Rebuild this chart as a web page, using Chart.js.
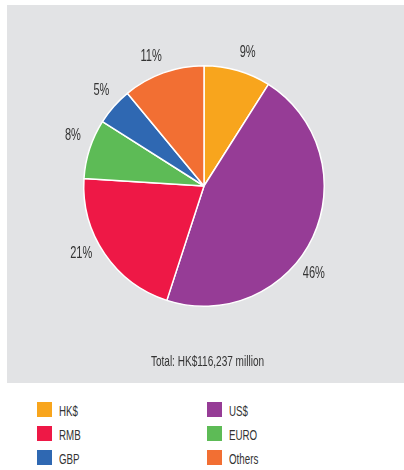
<!DOCTYPE html>
<html><head><meta charset="utf-8">
<script src="https://cdn.jsdelivr.net/npm/chart.js@4"></script>
<style>
html,body{margin:0;padding:0;background:#fff;width:404px;height:470px;overflow:hidden;}
body{position:relative;font-family:"Liberation Sans",Arial,sans-serif;color:#333;}
#panel{position:absolute;left:7px;top:5px;width:397px;height:378px;background:#E2E3E5;}
#wrap{position:absolute;left:0;top:0;width:404px;height:372px;}
#total{position:absolute;left:0;width:414px;top:353px;text-align:center;font-size:15px;color:#333;line-height:16px;}
#total span{display:inline-block;transform:scaleX(0.67);transform-origin:center;white-space:nowrap;}
.lg{position:absolute;font-size:15px;color:#333;line-height:16px;}
.lg i{position:absolute;left:0;top:0;width:15px;height:15px;}
.lg b{position:absolute;left:22px;top:1px;font-weight:normal;white-space:nowrap;transform:scaleX(0.65);transform-origin:left center;}
</style></head>
<body>
<div id="panel"></div>
<div id="wrap"><canvas id="c"></canvas></div>
<div id="total"><span></span></div>
<div id="legend"></div>
<script>
const categories = ["HK$","US$","RMB","EURO","GBP","Others"];
const shares = [9,46,21,8,5,11];
const labelTexts = ["9%","46%","21%","8%","5%","11%"];
const colors = ["#F8A51D","#963C96","#EE1846","#5DBB56","#2F68B2","#F26F33"];
const totalText = "Total: HK$116,237 million";
const legendOrder = ["HK$","US$","RMB","EURO","GBP","Others"];

document.querySelector('#total span').textContent = totalText;
const lg = document.getElementById('legend');
legendOrder.forEach((name,i)=>{
  const idx = categories.indexOf(name);
  const col = i%2, row = Math.floor(i/2);
  const d = document.createElement('div');
  d.className='lg';
  d.style.left = (col===0?37:207)+'px';
  d.style.top = (402+row*24)+'px';
  d.innerHTML = '<i style="background:'+colors[idx]+'"></i><b></b>';
  d.querySelector('b').textContent = name;
  lg.appendChild(d);
});

const outLabels = {
  id:'outLabels',
  afterDatasetsDraw(chart, args, opts){
    const ctx = chart.ctx;
    const meta = chart.getDatasetMeta(0);
    const fr = opts.fractions;
    ctx.save();
    ctx.font = '16px "Liberation Sans",Arial,sans-serif';
    ctx.fillStyle = '#333';
    ctx.textAlign='center';
    ctx.textBaseline='middle';
    meta.data.forEach((arc,i)=>{
      const p = arc.getProps(['x','y','startAngle','endAngle','outerRadius'],true);
      const a = p.startAngle + (p.endAngle-p.startAngle)*fr[i];
      const r = p.outerRadius + opts.gap;
      ctx.save();
      ctx.translate(p.x + Math.cos(a)*r, p.y + Math.sin(a)*r);
      ctx.scale(0.69,1);
      ctx.fillText(labelTexts[i], 0, 0);
      ctx.restore();
    });
    ctx.restore();
  }
};

new Chart(document.getElementById('c'),{
  type:'pie',
  data:{labels:categories,datasets:[{data:shares,backgroundColor:colors,borderColor:'#ffffff',borderWidth:1.5}]},
  options:{
    responsive:true,maintainAspectRatio:false,animation:false,
    layout:{padding:{left:4,right:0,top:65,bottom:65}},
    plugins:{legend:{display:false},tooltip:{enabled:false},
      outLabels:{gap:20,fractions:[0.56,0.58,0.57,0.6,0.59,0.44]}}
  },
  plugins:[outLabels]
});
</script>
</body></html>
